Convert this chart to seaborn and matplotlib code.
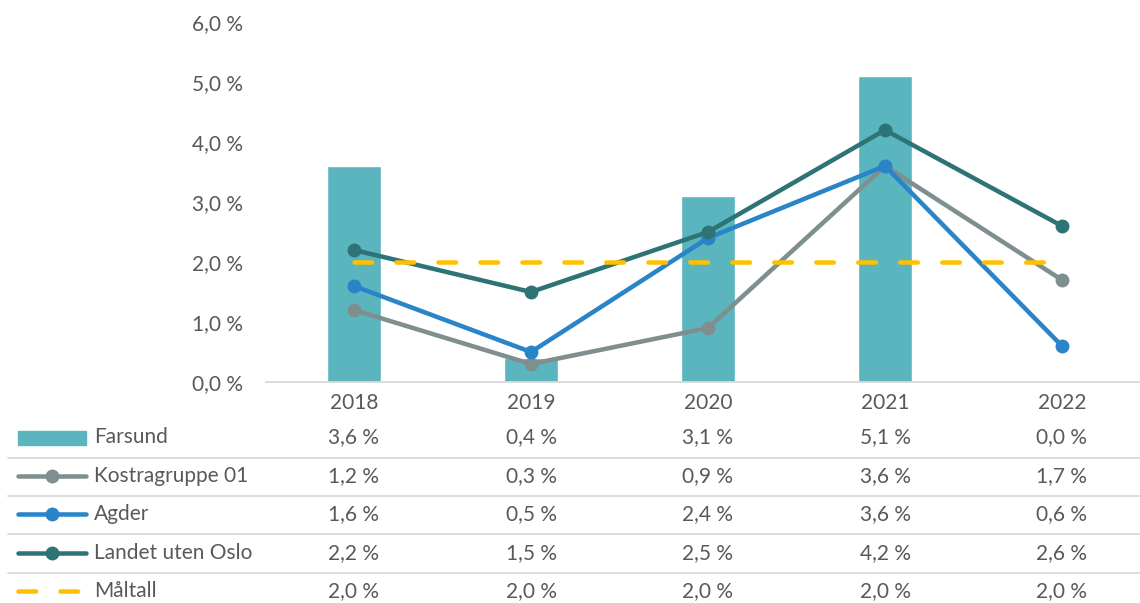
import numpy as np
import matplotlib
matplotlib.use('Agg')
import matplotlib.pyplot as plt
import matplotlib.transforms as mtransforms
from matplotlib.lines import Line2D
from matplotlib.patches import Rectangle
from matplotlib.ticker import FixedLocator, FixedFormatter
import seaborn as sns

# data
years = ['2018', '2019', '2020', '2021', '2022']
farsund = [3.6, 0.4, 3.1, 5.1, 0.0]
kostra = [1.2, 0.3, 0.9, 3.6, 1.7]
agder = [1.6, 0.5, 2.4, 3.6, 0.6]
landet = [2.2, 1.5, 2.5, 4.2, 2.6]
maltall = [2.0, 2.0, 2.0, 2.0, 2.0]
series_names = ['Farsund', 'Kostragruppe 01', 'Agder', 'Landet uten Oslo', 'Måltall']
y_ticks = [0, 1, 2, 3, 4, 5, 6]

def pct(v):
    return f'{v:.1f} %'.replace('.', ',')

# colours
c_bar = '#5AB5BF'
c_kostra = '#7F8F8F'
c_agder = '#2984C8'
c_landet = '#2E7477'
c_mal = '#FFC000'
c_text = '#595959'
c_grid = '#D9D9D9'

sns.set_theme(style='white')
plt.rcParams['font.family'] = ['Lato', 'DejaVu Sans']
plt.rcParams['font.size'] = 15

W, H = 1140, 603
fig = plt.figure(figsize=(W / 100, H / 100), dpi=100)

def fx(x):
    return x / W

def fy(y):
    return 1 - y / H

# plot area: category spacing 177 px, zero line at y=382, 6 % at y=22
ax = fig.add_axes([fx(265.5), fy(382), fx(885), (382 - 22) / H])

sns.barplot(x=years, y=farsund, color=c_bar, saturation=1, width=0.31, ax=ax, zorder=2)

xpos = np.arange(len(years))
lw = 3.25
dash = (0, (3.9, 5.4))
sns.lineplot(x=xpos, y=kostra, color=c_kostra, linewidth=lw, marker='o', markersize=10,
             markeredgewidth=0, solid_capstyle='round', ax=ax, zorder=3)
sns.lineplot(x=xpos, y=agder, color=c_agder, linewidth=lw, marker='o', markersize=10,
             markeredgewidth=0, solid_capstyle='round', ax=ax, zorder=4)
sns.lineplot(x=xpos, y=landet, color=c_landet, linewidth=lw, marker='o', markersize=10,
             markeredgewidth=0, solid_capstyle='round', ax=ax, zorder=5)
sns.lineplot(x=xpos, y=maltall, color=c_mal, linewidth=lw, linestyle=dash,
             dash_capstyle='round', ax=ax, zorder=6)

ax.set_xlim(-0.5, 4.5)
ax.set_ylim(0, 6)
ax.yaxis.set_major_locator(FixedLocator(y_ticks))
ax.yaxis.set_major_formatter(FixedFormatter([pct(v) for v in y_ticks]))
ax.tick_params(axis='y', length=0, pad=16, labelcolor=c_text, labelsize=15)
ax.tick_params(axis='x', length=0, pad=8, labelcolor=c_text, labelsize=15)
ax.set_xlabel('')
ax.set_ylabel('')
for s in ['left', 'right', 'top']:
    ax.spines[s].set_visible(False)
ax.spines['bottom'].set_color(c_grid)
ax.spines['bottom'].set_linewidth(1.3)
ax.grid(False)

# data table below the plot
row_y = [437, 476, 514, 553, 591]
sep_y = [458, 496, 534, 573]
table_vals = [farsund, kostra, agder, landet, maltall]
trans = mtransforms.blended_transform_factory(ax.transData, fig.transFigure)

for r, vals in enumerate(table_vals):
    for i, v in enumerate(vals):
        fig.text(i, fy(row_y[r]), pct(v), transform=trans, ha='center', va='center',
                 color=c_text, fontsize=15)
    fig.text(fx(94), fy(row_y[r]), series_names[r], ha='left', va='center',
             color=c_text, fontsize=15)

for y in sep_y:
    fig.add_artist(Line2D([fx(8), fx(W)], [fy(y), fy(y)], color=c_grid, linewidth=1.3))

# legend keys in the table
fig.add_artist(Rectangle((fx(18), fy(445)), fx(68), (445 - 431) / H, color=c_bar,
                         transform=fig.transFigure))
for r, col in zip([1, 2, 3], [c_kostra, c_agder, c_landet]):
    fig.add_artist(Line2D([fx(18), fx(86)], [fy(row_y[r]), fy(row_y[r])], color=col,
                          linewidth=lw, solid_capstyle='round'))
    fig.add_artist(Line2D([fx(52)], [fy(row_y[r])], color=col, marker='o',
                          markersize=10, markeredgewidth=0))
fig.add_artist(Line2D([fx(18), fx(86)], [fy(row_y[4]), fy(row_y[4])], color=c_mal,
                      linewidth=lw, linestyle=dash, dash_capstyle='round'))

fig.savefig('out.png', dpi=100)
